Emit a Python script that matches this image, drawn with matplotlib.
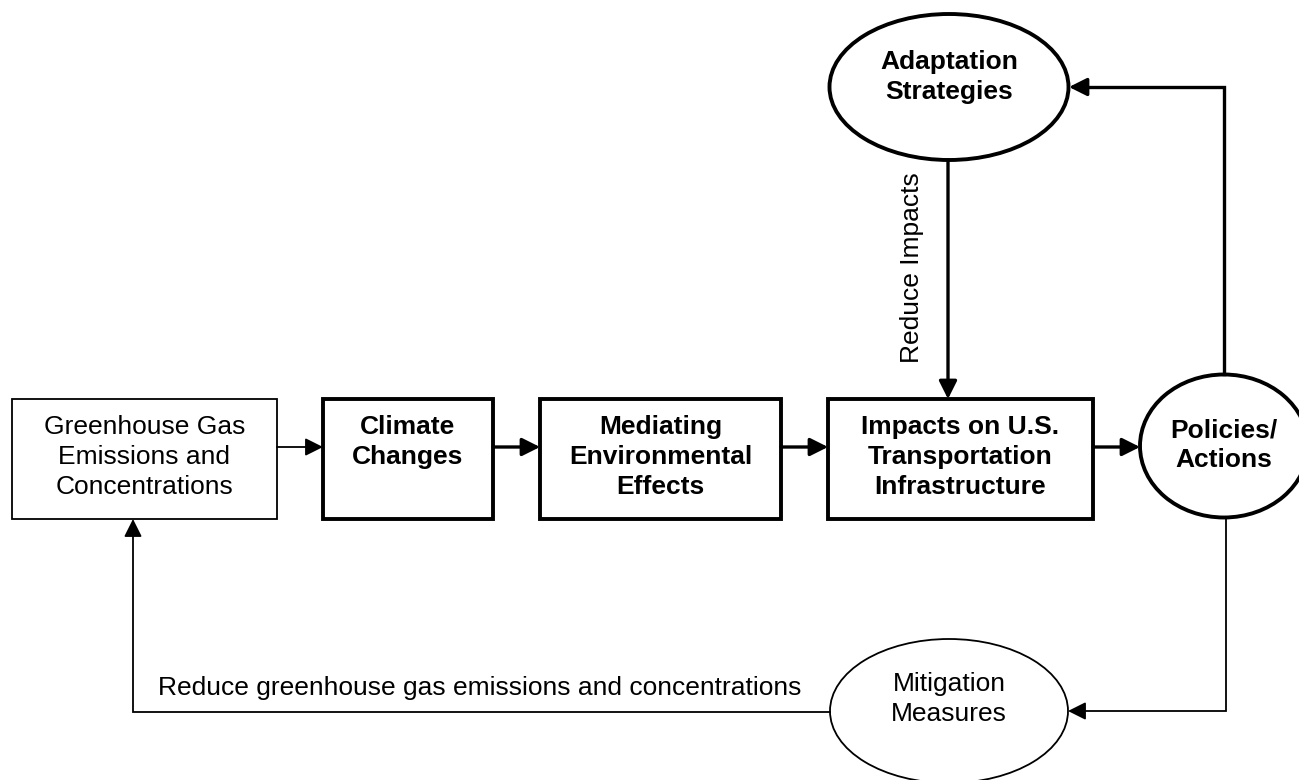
import matplotlib.pyplot as plt
from matplotlib.patches import Rectangle, Ellipse

plt.rcParams["font.family"] = ["Liberation Sans", "DejaVu Sans"]

# node labels
box_labels = [
    "Greenhouse Gas\nEmissions and\nConcentrations",
    "Climate\nChanges",
    "Mediating\nEnvironmental\nEffects",
    "Impacts on U.S.\nTransportation\nInfrastructure",
]
box_bold = [False, True, True, True]
ellipse_labels = ["Adaptation\nStrategies", "Policies/\nActions", "Mitigation\nMeasures"]
ellipse_bold = [True, True, False]
edge_labels = ["Reduce Impacts", "Reduce greenhouse gas emissions and concentrations"]

# layout in pixels (x0, x1) for boxes, all on one row
box_x = [(12, 277), (323, 493), (540, 781), (828, 1093)]
box_y = (399, 519)
# ellipses: centre x, centre y, width, height, label centre y
ell = [(949, 87, 239, 146, 77), (1224, 446, 168, 143, 445), (949, 711, 238, 144, 699)]

THICK = 2.8
ARR = 2.4
THIN = 1.3
FS = 19
LS = 1.29

fig = plt.figure(figsize=(12.99, 7.8), dpi=100)
ax = fig.add_axes([0, 0, 1, 1])
ax.set_xlim(0, 1299)
ax.set_ylim(780, 0)
ax.axis("off")

# boxes, text hangs from the top line
for (x0, x1), lab, bold in zip(box_x, box_labels, box_bold):
    ax.add_patch(Rectangle((x0, box_y[0]), x1 - x0, box_y[1] - box_y[0],
                           fill=False, ec="black", lw=THICK if bold else THIN))
    n = lab.count("\n")
    ax.text((x0 + x1) / 2, 427 + n * 15, lab,
            ha="center", va="center", fontsize=FS, linespacing=LS,
            fontweight="bold" if bold else "normal")

# ellipses
for (cx, cy, w, h, ty), lab, bold in zip(ell, ellipse_labels, ellipse_bold):
    ax.add_patch(Ellipse((cx, cy), w, h, fill=False, ec="black",
                         lw=THICK if bold else THIN))
    ax.text(cx, ty, lab, ha="center", va="center", fontsize=FS,
            linespacing=LS, fontweight="bold" if bold else "normal")


def arrow(start, end, lw):
    ax.annotate("", xy=end, xytext=start,
                arrowprops=dict(arrowstyle="-|>", color="black", lw=lw,
                                mutation_scale=27, shrinkA=0, shrinkB=0))


def path(xs, ys, lw):
    ax.plot(xs, ys, color="black", lw=lw,
            solid_capstyle="projecting", solid_joinstyle="miter")


# main chain
arrow((277, 447), (323, 447), THIN)
arrow((493, 447), (540, 447), ARR)
arrow((781, 447), (828, 447), ARR)
arrow((1093, 447), (1140, 447), ARR)

# adaptation -> impacts
arrow((948, 160), (948, 399), ARR)
ax.text(912, 268, edge_labels[0], rotation=90, ha="center", va="center", fontsize=FS)

# policies -> adaptation
path([1224, 1224, 1084], [374, 87, 87], ARR)
arrow((1084, 87), (1069, 87), ARR)

# policies -> mitigation
path([1226, 1226, 1083], [517, 711, 711], THIN)
arrow((1083, 711), (1068, 711), THIN)

# mitigation -> greenhouse
path([830, 133, 133], [712, 712, 534], THIN)
arrow((133, 534), (133, 519), THIN)
ax.text(158, 688, edge_labels[1], ha="left", va="center", fontsize=FS)

fig.savefig("out.png", dpi=100)
